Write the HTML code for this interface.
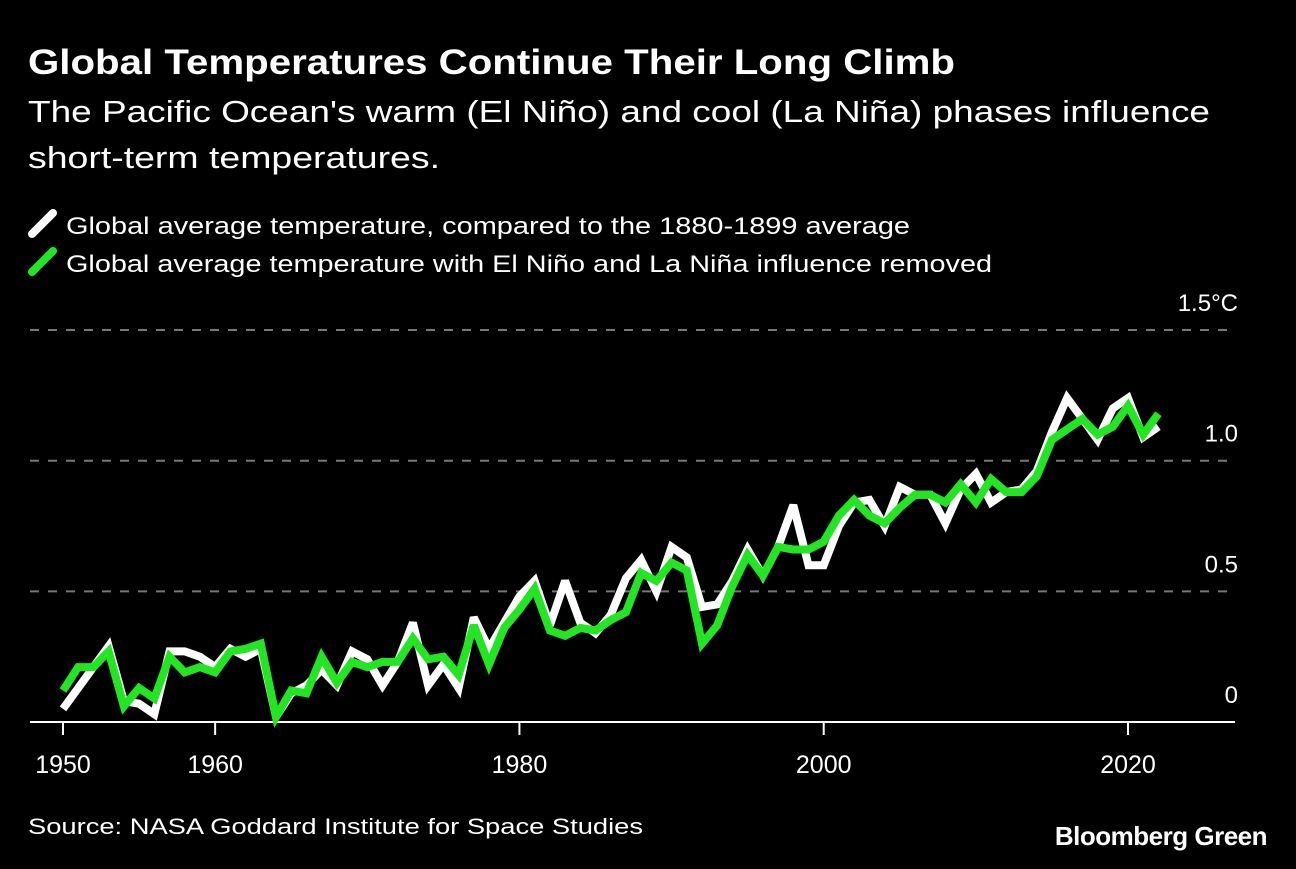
<!DOCTYPE html>
<html><head><meta charset="utf-8"><style>
body{margin:0;background:#000;width:1296px;height:864px;overflow:hidden;font-family:"Liberation Sans",sans-serif;color:#fff}
</style></head><body>
<svg width="1296" height="864" xmlns="http://www.w3.org/2000/svg" font-family="Liberation Sans, sans-serif">
<rect width="1296" height="864" fill="#000"/>
<text x="28" y="74" font-size="35" font-weight="bold" fill="#fff" textLength="927" lengthAdjust="spacingAndGlyphs">Global Temperatures Continue Their Long Climb</text>
<text font-size="31" fill="#fff"><tspan x="28" y="122" textLength="1182" lengthAdjust="spacingAndGlyphs">The Pacific Ocean's warm (El Niño) and cool (La Niña) phases influence</tspan><tspan x="28" y="168" textLength="412" lengthAdjust="spacingAndGlyphs">short-term temperatures.</tspan></text>
<g>
<line x1="32" y1="234" x2="53" y2="213" stroke="#fff" stroke-width="8" stroke-linecap="round"/>
<text x="66" y="234" font-size="24" fill="#fff" textLength="844" lengthAdjust="spacingAndGlyphs">Global average temperature, compared to the 1880-1899 average</text>
<line x1="32" y1="272" x2="53" y2="251" stroke="#22e622" stroke-width="8" stroke-linecap="round"/>
<text x="66" y="272" font-size="24" fill="#fff" textLength="926" lengthAdjust="spacingAndGlyphs">Global average temperature with El Niño and La Niña influence removed</text>
</g>
<g id="grid"></g><g id="xaxis"></g><g id="lines"></g>
<text x="28" y="834" font-size="22" fill="#fff" textLength="615" lengthAdjust="spacingAndGlyphs">Source: NASA Goddard Institute for Space Studies</text>
<text x="1267" y="845" font-size="26" font-weight="bold" text-anchor="end" fill="#fff" letter-spacing="-0.5">Bloomberg Green</text>
</svg>
<script>
const years=[];for(let y=1950;y<=2022;y++)years.push(y);
const globalTemp=[0.05,0.13,0.21,0.29,0.08,0.07,0.03,0.27,0.27,0.25,0.21,0.28,0.25,0.28,0.02,0.11,0.14,0.20,0.14,0.27,0.24,0.14,0.23,0.38,0.14,0.22,0.13,0.40,0.28,0.38,0.48,0.54,0.37,0.54,0.38,0.34,0.41,0.55,0.62,0.50,0.67,0.63,0.44,0.45,0.54,0.66,0.56,0.67,0.83,0.60,0.60,0.75,0.84,0.85,0.75,0.90,0.87,0.87,0.76,0.89,0.95,0.84,0.88,0.89,0.96,1.11,1.24,1.16,1.08,1.20,1.24,1.09,1.13];
const ensoRemoved=[0.12,0.21,0.21,0.27,0.06,0.13,0.09,0.25,0.19,0.21,0.19,0.27,0.28,0.30,0.02,0.12,0.11,0.25,0.15,0.23,0.21,0.23,0.23,0.32,0.24,0.25,0.18,0.37,0.22,0.36,0.43,0.51,0.35,0.33,0.36,0.35,0.39,0.42,0.57,0.54,0.61,0.58,0.30,0.37,0.52,0.64,0.56,0.67,0.66,0.66,0.69,0.79,0.85,0.79,0.76,0.82,0.87,0.87,0.84,0.91,0.84,0.93,0.88,0.88,0.94,1.08,1.12,1.16,1.10,1.13,1.21,1.10,1.18];
const yTicks=[0,0.5,1.0,1.5];
const yTickLabels=["0","0.5","1.0","1.5°C"];
const xTicks=[1950,1960,1980,2000,2020];
const NS="http://www.w3.org/2000/svg";
const xs=y=>63+(y-1950)*(1128-63)/70;
const ys=v=>722-v*261.3;
function mk(t,a,p){const e=document.createElementNS(NS,t);for(const k in a)e.setAttribute(k,a[k]);p.appendChild(e);return e;}
const grid=document.getElementById('grid');
yTicks.forEach((v,i)=>{
 if(v>0){const l=mk('line',{x1:30,x2:1235,y1:ys(v),y2:ys(v),stroke:'#777','stroke-width':2,'stroke-dasharray':'9 9'},grid);
 
 }
 const t=mk('text',{x:1238,y:ys(v)-19,'font-size':24,fill:'#fff','text-anchor':'end'},grid);
 
 
 t.textContent=yTickLabels[i];
});
const xa=document.getElementById('xaxis');
const base=mk('line',{x1:30,x2:1235,y1:722,y2:722,stroke:'#fff','stroke-width':2},xa);


xTicks.forEach(y=>{
 const tk=mk('line',{x1:xs(y),x2:xs(y),y1:722,y2:735,stroke:'#fff','stroke-width':2},xa);
 
 
 const t=mk('text',{x:xs(y),y:773,'font-size':25,fill:'#fff','text-anchor':'middle'},xa);
 
 
 t.textContent=y;
});
const lines=document.getElementById('lines');
function path(vals,col,name){
 const d=vals.map((v,i)=>(i?'L':'M')+xs(years[i]).toFixed(1)+','+ys(v).toFixed(1)).join('');
 const p=mk('path',{d:d,fill:'none',stroke:col,'stroke-width':8,'stroke-linejoin':'miter','stroke-miterlimit':3},lines);
 
 
}
path(globalTemp,'#fff','global-temp-line');
path(ensoRemoved,'#22e622','enso-removed-line');
</script>
</body></html>
